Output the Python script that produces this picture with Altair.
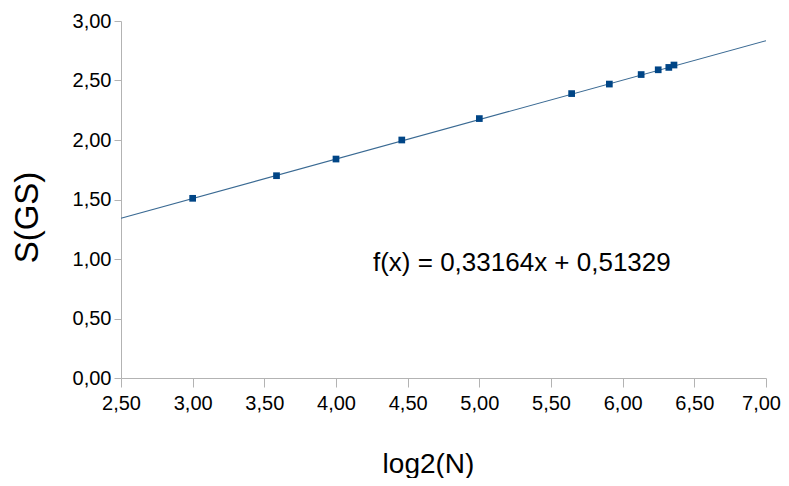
import altair as alt
import pandas as pd

# Data
log2_n = [3.00, 3.585, 4.00, 4.459, 5.00, 5.644, 5.907, 6.129, 6.248, 6.322, 6.358]
s_gs = [1.51, 1.70, 1.84, 2.00, 2.18, 2.39, 2.47, 2.55, 2.59, 2.61, 2.63]

slope = 0.33164
intercept = 0.51329
trend_x = [2.5, 7.0]
trend_y = [slope * v + intercept for v in trend_x]

eq_label = ["f(x) = 0,33164x + 0,51329"]
eq_x = [4.258]
eq_y = [0.966]

x_ticks = [2.5, 3.0, 3.5, 4.0, 4.5, 5.0, 5.5, 6.0, 6.5, 7.0]
y_ticks = [0.0, 0.5, 1.0, 1.5, 2.0, 2.5, 3.0]

pts = pd.DataFrame({"x": log2_n, "y": s_gs})
trend = pd.DataFrame({"x": trend_x, "y": trend_y})
eq = pd.DataFrame({"x": eq_x, "y": eq_y, "t": eq_label})

FONT = "Liberation Sans"
AX = "#b3b3b3"

xscale = alt.Scale(domain=[2.5, 7.0], nice=False, zero=False)
yscale = alt.Scale(domain=[0, 3.0], nice=False, zero=False)

label_expr = "replace(format(datum.value, '.2f'), '.', ',')"

xaxis = alt.Axis(
    values=x_ticks, labelExpr=label_expr, grid=False, domainColor=AX, tickColor=AX,
    tickSize=9, labelPadding=6, labelFontSize=20, labelFont=FONT, labelColor="#000000",
    labelFlush=False, labelOverlap=False, labelBound=False,
    labelOffset=alt.condition("datum.value >= 7", alt.value(-5), alt.value(0)),
    title="log2(N)", titleFont=FONT, titleFontSize=28, titleFontWeight="normal",
    titleColor="#000000", titlePadding=37, titleX=307,
)
yaxis = alt.Axis(
    values=y_ticks, labelExpr=label_expr, grid=False, domainColor=AX, tickColor=AX,
    tickSize=7, labelPadding=3, labelFontSize=20, labelFont=FONT, labelColor="#000000",
    labelFlush=False, labelOverlap=False,
    title="S(GS)", titleFont=FONT, titleFontSize=33, titleFontWeight="normal",
    titleColor="#000000", titlePadding=28, titleY=196,
)

line = alt.Chart(trend).mark_line(color="#3a6a93", strokeWidth=1.1).encode(
    x=alt.X("x:Q", scale=xscale, axis=xaxis),
    y=alt.Y("y:Q", scale=yscale, axis=yaxis),
)

points = alt.Chart(pts).mark_square(color="#004586", size=45, opacity=1).encode(
    x=alt.X("x:Q", scale=xscale),
    y=alt.Y("y:Q", scale=yscale),
)

text = alt.Chart(eq).mark_text(
    align="left", baseline="middle", font=FONT, fontSize=26, color="#000000"
).encode(
    x=alt.X("x:Q", scale=xscale),
    y=alt.Y("y:Q", scale=yscale),
    text="t:N",
)

chart = (
    alt.layer(line, points, text)
    .properties(
        width=645,
        height=357,
        autosize=alt.AutoSizeParams(type="none"),
        padding={"left": 113, "top": 13, "right": 15, "bottom": 100},
        background="#ffffff",
    )
    .configure_view(strokeWidth=0)
)

chart.save("out.html", embed_options={"renderer": "svg", "actions": False})
